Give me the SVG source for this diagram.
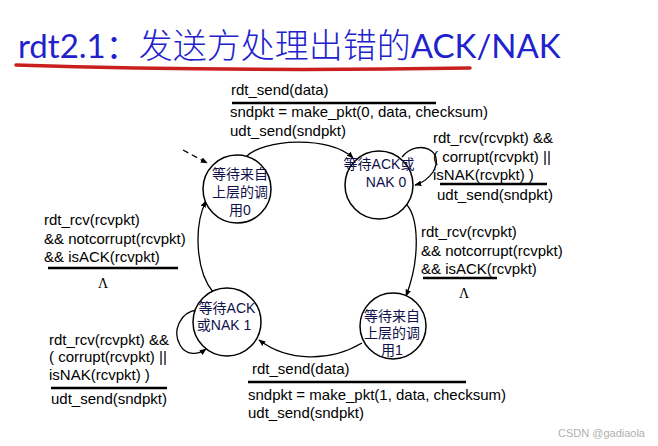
<svg xmlns="http://www.w3.org/2000/svg" width="658" height="446" viewBox="0 0 658 446">
<style>
.lbl{font-family:"Liberation Sans",Arial,sans-serif;font-size:15px;fill:#000}
.st{font-family:"Liberation Sans","Noto Sans CJK SC",sans-serif;font-size:14px;fill:#10104a}
.bar{stroke:#000;stroke-width:2.5}
.node{fill:#fff;stroke:#000;stroke-width:1.5}
.edge{fill:none;stroke:#000;stroke-width:1.3}
.lam{font-family:"Liberation Serif",serif;font-size:14px;fill:#000}
</style>
<defs>
<marker id="ah" viewBox="0 0 10 10" refX="9" refY="5" markerWidth="7" markerHeight="7" orient="auto" markerUnits="userSpaceOnUse">
<path d="M0,1 L10,5 L0,9 z" fill="#000"/>
</marker>
</defs>
<rect width="658" height="446" fill="#fff"/>
<g id="title">
<text x="18" y="58" font-family="Lato,'Noto Sans CJK SC',sans-serif" font-size="33" fill="#2222cc">rdt2.1：<tspan font-family="'Noto Sans CJK SC',sans-serif" font-weight="300" font-size="34">发送方处理出错的</tspan>ACK/NAK</text>
<path d="M16,65 Q240,72 470,68" fill="none" stroke="#c8201e" stroke-width="3.5" stroke-linecap="round"/>
</g>
<g id="connectors">
<path class="edge" d="M183,150 L207,163" stroke-dasharray="6,4" stroke-width="2.2" marker-end="url(#ah)"/>
<path class="edge" d="M246,157 C262,139 330,135 353,158" marker-end="url(#ah)"/>
<path class="edge" d="M402,157 C418,138 446,150 433,172 Q426,182 415,185" marker-end="url(#ah)"/>
<path class="edge" d="M404,202 C420,215 420,260 406,296" marker-end="url(#ah)"/>
<path class="edge" d="M362,343 C330,362 288,362 259,340" marker-end="url(#ah)"/>
<path class="edge" d="M197,310 C180,312 172,331 180,345 C186,356 198,355 206,349" marker-end="url(#ah)"/>
<path class="edge" d="M213,292 C195,270 194,225 206,201" marker-end="url(#ah)"/>
</g>
<g id="wait_call0">
<circle class="node" cx="237" cy="189" r="34"/>
<text class="st" text-anchor="middle"><tspan x="240" y="179">等待来自</tspan><tspan x="240" y="197">上层的调</tspan><tspan x="240" y="215">用0</tspan></text>
</g>
<g id="wait_ack0">
<circle class="node" cx="379" cy="185" r="34"/>
<text class="st" text-anchor="middle"><tspan x="379" y="169">等待ACK或</tspan><tspan x="386" y="187">NAK 0</tspan></text>
</g>
<g id="wait_ack1">
<circle class="node" cx="227" cy="322" r="34"/>
<text class="st" text-anchor="middle"><tspan x="227" y="313">等待ACK</tspan><tspan x="224" y="330">或NAK 1</tspan></text>
</g>
<g id="wait_call1">
<circle class="node" cx="393" cy="326" r="33"/>
<text class="st" text-anchor="middle"><tspan x="392" y="321">等待来自</tspan><tspan x="392" y="338">上层的调</tspan><tspan x="392" y="355">用1</tspan></text>
</g>
<g id="labels">
<text class="lbl" x="231" y="95">rdt_send(data)</text>
<line class="bar" x1="232" y1="103" x2="436" y2="103"/>
<text class="lbl"><tspan x="230" y="117">sndpkt = make_pkt(0, data, checksum)</tspan><tspan x="230" y="136">udt_send(sndpkt)</tspan></text>

<text class="lbl"><tspan x="433" y="143">rdt_rcv(rcvpkt) &amp;&amp;</tspan><tspan x="433" y="162">( corrupt(rcvpkt) ||</tspan><tspan x="433" y="180">isNAK(rcvpkt) )</tspan></text>
<line class="bar" x1="440" y1="184" x2="547" y2="184"/>
<text class="lbl" x="437" y="200">udt_send(sndpkt)</text>

<text class="lbl"><tspan x="44" y="225">rdt_rcv(rcvpkt)</tspan><tspan x="44" y="244">&amp;&amp; notcorrupt(rcvpkt)</tspan><tspan x="44" y="262">&amp;&amp; isACK(rcvpkt)</tspan></text>
<line class="bar" x1="48" y1="268" x2="178" y2="268"/>
<text class="lam" x="103" y="288" text-anchor="middle">Λ</text>

<text class="lbl"><tspan x="421" y="237">rdt_rcv(rcvpkt)</tspan><tspan x="421" y="256">&amp;&amp; notcorrupt(rcvpkt)</tspan><tspan x="421" y="274">&amp;&amp; isACK(rcvpkt)</tspan></text>
<line class="bar" x1="423" y1="278" x2="497" y2="278"/>
<text class="lam" x="464" y="298" text-anchor="middle">Λ</text>

<text class="lbl"><tspan x="49" y="345">rdt_rcv(rcvpkt) &amp;&amp;</tspan><tspan x="49" y="362">( corrupt(rcvpkt) ||</tspan><tspan x="49" y="380">isNAK(rcvpkt) )</tspan></text>
<line class="bar" x1="51" y1="388" x2="167" y2="388"/>
<text class="lbl" x="51" y="404">udt_send(sndpkt)</text>

<text class="lbl" x="252" y="374">rdt_send(data)</text>
<line class="bar" x1="248" y1="382" x2="466" y2="382"/>
<text class="lbl"><tspan x="248" y="400">sndpkt = make_pkt(1, data, checksum)</tspan><tspan x="248" y="418">udt_send(sndpkt)</tspan></text>
</g>
<text x="558" y="437" font-family="'Liberation Sans',sans-serif" font-size="11" fill="#b0b0b0">CSDN @gadiaola</text>
</svg>
